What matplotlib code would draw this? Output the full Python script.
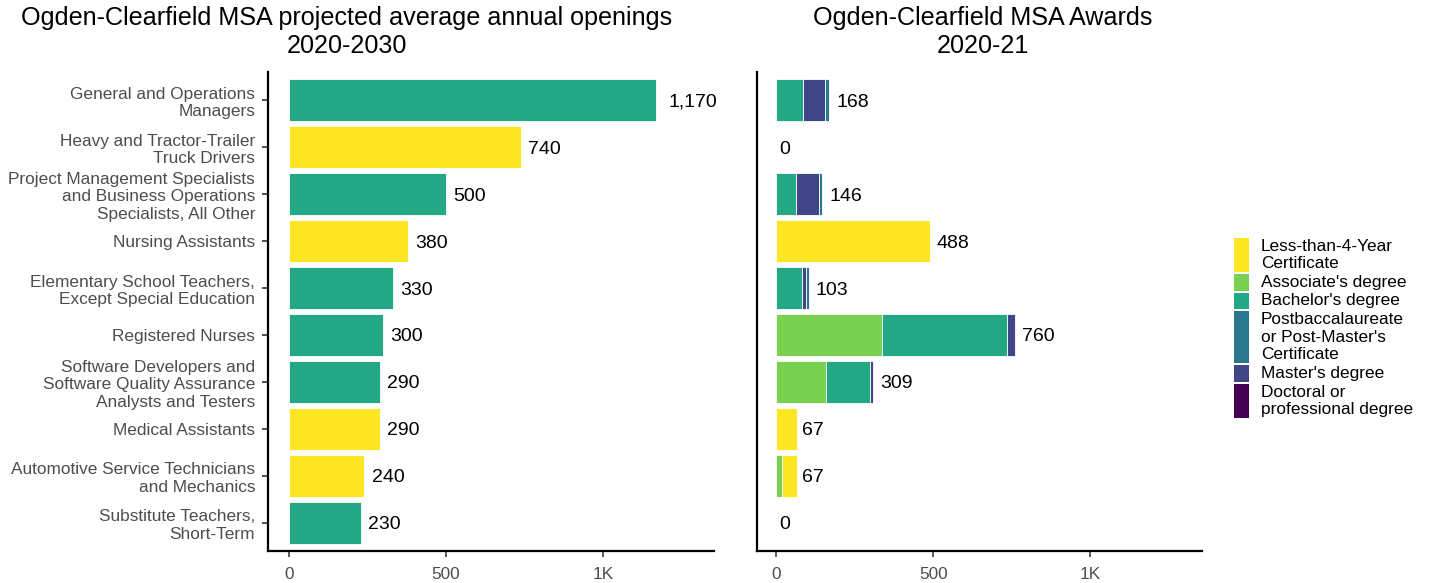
import matplotlib
matplotlib.use("Agg")
from matplotlib import pyplot as plt
from matplotlib.patches import Rectangle
import numpy as np

plt.rcParams['font.family'] = ['Liberation Sans', 'DejaVu Sans']

# data
occupations = ["General and Operations\nManagers",
               "Heavy and Tractor-Trailer\nTruck Drivers",
               "Project Management Specialists\nand Business Operations\nSpecialists, All Other",
               "Nursing Assistants",
               "Elementary School Teachers,\nExcept Special Education",
               "Registered Nurses",
               "Software Developers and\nSoftware Quality Assurance\nAnalysts and Testers",
               "Medical Assistants",
               "Automotive Service Technicians\nand Mechanics",
               "Substitute Teachers,\nShort-Term"]
openings = [1170, 740, 500, 380, 330, 300, 290, 290, 240, 230]
openings_level = ["Bachelor's degree", "Less-than-4-Year Certificate", "Bachelor's degree",
                  "Less-than-4-Year Certificate", "Bachelor's degree", "Bachelor's degree",
                  "Bachelor's degree", "Less-than-4-Year Certificate",
                  "Less-than-4-Year Certificate", "Bachelor's degree"]

less_than_4 = [0, 0, 0, 488, 0, 0, 0, 67, 48, 0]
associate = [0, 0, 0, 0, 0, 335, 159, 0, 19, 0]
bachelor = [86, 0, 62, 0, 80, 399, 138, 0, 0, 0]
master = [69, 0, 74, 0, 13, 26, 12, 0, 0, 0]
postbacc = [13, 0, 10, 0, 10, 0, 0, 0, 0, 0]
doctoral = [0, 0, 0, 0, 0, 0, 0, 0, 0, 0]
award_totals = [168, 0, 146, 488, 103, 760, 309, 67, 67, 0]

legend_labels = ["Less-than-4-Year\nCertificate", "Associate's degree", "Bachelor's degree",
                 "Postbaccalaureate\nor Post-Master's\nCertificate", "Master's degree",
                 "Doctoral or\nprofessional degree"]

colors = {"Less-than-4-Year Certificate": "#FDE725",
          "Associate's degree": "#7AD151",
          "Bachelor's degree": "#22A884",
          "Postbaccalaureate or Post-Master's Certificate": "#2A788E",
          "Master's degree": "#414487",
          "Doctoral or professional degree": "#440154"}

W, H = 1430, 583
fig = plt.figure(figsize=(W / 100, H / 100), dpi=100)
ax1 = fig.add_axes([268 / W, 1 - 551 / H, 446 / W, 479 / H])
ax2 = fig.add_axes([757 / W, 1 - 551 / H, 445 / W, 479 / H])

y = np.arange(len(occupations))
tick_gray = "#4D4D4D"
fs_tick = 12.4
fs_val = 14
fs_title = 18.1


def value_label(ax, x, yy, v):
    txt = f"{v:,}"
    off = 0.22 * 0.56 * fs_val * len(txt)
    ax.annotate(txt, (x, yy), xytext=(off, 0), textcoords="offset points",
                ha="left", va="center_baseline", fontsize=fs_val, color="black")


# left panel
ax1.barh(y, openings, height=0.9, color=[colors[l] for l in openings_level],
         edgecolor="white", linewidth=0.6)
for i, v in enumerate(openings):
    value_label(ax1, v, i, v)

# right panel stacked
stack_order = [("Associate's degree", associate),
               ("Bachelor's degree", bachelor),
               ("Master's degree", master),
               ("Postbaccalaureate or Post-Master's Certificate", postbacc),
               ("Doctoral or professional degree", doctoral),
               ("Less-than-4-Year Certificate", less_than_4)]
left = np.zeros(len(occupations))
for name, vals in stack_order:
    vals = np.array(vals, dtype=float)
    mask = vals > 0
    ax2.barh(y[mask], vals[mask], left=left[mask], height=0.9, color=colors[name],
             edgecolor="white", linewidth=0.6)
    left += vals
for i, v in enumerate(award_totals):
    value_label(ax2, v, i, v)

for ax, xl in ((ax1, (-67, 1354)), (ax2, (-62, 1356))):
    ax.set_xlim(*xl)
    ax.set_ylim(9.6, -0.6)
    for s in ("top", "right"):
        ax.spines[s].set_visible(False)
    for s in ("left", "bottom"):
        ax.spines[s].set_linewidth(1.6)
        ax.spines[s].set_color("black")
    ax.set_xticks([0, 500, 1000])
    ax.set_xticklabels(["0", "500", "1K"])
    ax.tick_params(axis="x", length=4.3, width=1.1, color="#333333", labelsize=fs_tick,
                   labelcolor=tick_gray, pad=7)

ax1.set_yticks(y)
ax1.set_yticklabels(occupations, fontsize=fs_tick, color=tick_gray, linespacing=1.2)
ax1.tick_params(axis="y", length=4.3, width=1.2, color="#333333", pad=5)
ax2.set_yticks([])

# titles
fig.text(347 / W, 1 - 18 / H, "Ogden-Clearfield MSA projected average annual openings",
         ha="center", va="center", fontsize=fs_title)
fig.text(347 / W, 1 - 46 / H, "2020-2030", ha="center", va="center", fontsize=fs_title)
fig.text(983 / W, 1 - 18 / H, "Ogden-Clearfield MSA Awards", ha="center", va="center", fontsize=fs_title)
fig.text(983 / W, 1 - 46 / H, "2020-21", ha="center", va="center", fontsize=fs_title)

# legend (drawn as keys whose height follows the label lines)
legend_colors = ["#FDE725", "#7AD151", "#22A884", "#2A788E", "#414487", "#440154"]
line_h = 18.2
ytop = 237
for lab, c in zip(legend_labels, legend_colors):
    n = lab.count("\n") + 1
    h = n * line_h
    fig.patches.append(Rectangle((1234 / W, 1 - (ytop + h - 1) / H), 15 / W, (h - 2) / H,
                                 transform=fig.transFigure, facecolor=c, edgecolor="none"))
    fig.text(1261 / W, 1 - (ytop + h / 2) / H, lab, ha="left", va="center",
             fontsize=fs_tick, color="black", linespacing=1.2)
    ytop += h

fig.savefig("out.png", dpi=100)
